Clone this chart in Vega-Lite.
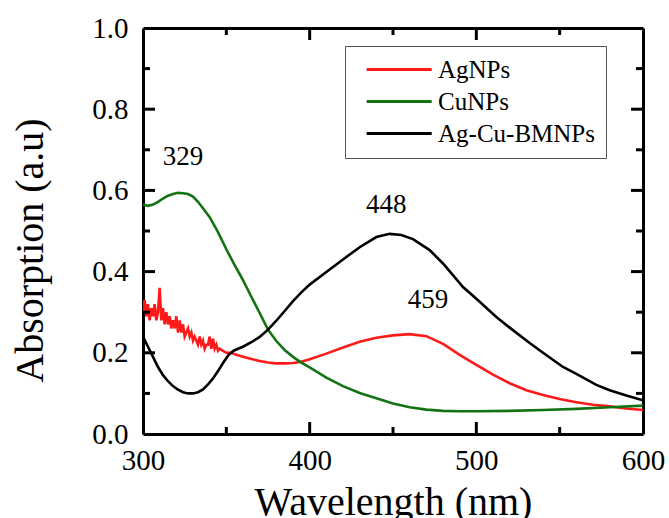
{
  "$schema": "https://vega.github.io/schema/vega-lite/v6.json",
  "width": 500,
  "height": 406,
  "autosize": "none",
  "padding": {"left": 143, "top": 28, "right": 26, "bottom": 84},
  "background": "white",
  "config": {
    "view": {"stroke": null},
    "font": "Liberation Serif, Times New Roman, serif",
    "axis": {
      "labelFlush": false,
      "labelFont": "Liberation Serif, Times New Roman, serif",
      "labelFontSize": 29,
      "labelColor": "black",
      "titleFont": "Liberation Serif, Times New Roman, serif",
      "titleFontSize": 40,
      "titleFontWeight": "normal",
      "titleColor": "black"
    }
  },
  "datasets": {
    "notes": [
      {"t": "329", "w": 324, "a": 0.682},
      {"t": "448", "w": 446, "a": 0.564},
      {"t": "459", "w": 471, "a": 0.33}
    ],
    "marks": [
      {"o": "b", "w": 350, "a": 0, "k": "minor"}, {"o": "b", "w": 400, "a": 0, "k": "major"}, {"o": "b", "w": 450, "a": 0, "k": "minor"}, {"o": "b", "w": 500, "a": 0, "k": "major"}, {"o": "b", "w": 550, "a": 0, "k": "minor"},
      {"o": "t", "w": 350, "a": 1, "k": "minor"}, {"o": "t", "w": 400, "a": 1, "k": "major"}, {"o": "t", "w": 450, "a": 1, "k": "minor"}, {"o": "t", "w": 500, "a": 1, "k": "major"}, {"o": "t", "w": 550, "a": 1, "k": "minor"},
      {"o": "l", "w": 300, "a": 0.1, "k": "minor"}, {"o": "l", "w": 300, "a": 0.2, "k": "major"}, {"o": "l", "w": 300, "a": 0.3, "k": "minor"}, {"o": "l", "w": 300, "a": 0.4, "k": "major"}, {"o": "l", "w": 300, "a": 0.5, "k": "minor"}, {"o": "l", "w": 300, "a": 0.6, "k": "major"}, {"o": "l", "w": 300, "a": 0.7, "k": "minor"}, {"o": "l", "w": 300, "a": 0.8, "k": "major"}, {"o": "l", "w": 300, "a": 0.9, "k": "minor"},
      {"o": "r", "w": 600, "a": 0.1, "k": "minor"}, {"o": "r", "w": 600, "a": 0.2, "k": "major"}, {"o": "r", "w": 600, "a": 0.3, "k": "minor"}, {"o": "r", "w": 600, "a": 0.4, "k": "major"}, {"o": "r", "w": 600, "a": 0.5, "k": "minor"}, {"o": "r", "w": 600, "a": 0.6, "k": "major"}, {"o": "r", "w": 600, "a": 0.7, "k": "minor"}, {"o": "r", "w": 600, "a": 0.8, "k": "major"}, {"o": "r", "w": 600, "a": 0.9, "k": "minor"}
    ]
  },
  "data": {
    "values": [
      {"s": "AgNPs", "w": 300, "a": 0.30}, {"s": "AgNPs", "w": 301, "a": 0.33}, {"s": "AgNPs", "w": 302, "a": 0.29}, {"s": "AgNPs", "w": 303, "a": 0.32}, {"s": "AgNPs", "w": 304, "a": 0.28}, {"s": "AgNPs", "w": 305, "a": 0.31}, {"s": "AgNPs", "w": 306, "a": 0.29}, {"s": "AgNPs", "w": 307, "a": 0.32}, {"s": "AgNPs", "w": 308, "a": 0.28}, {"s": "AgNPs", "w": 309, "a": 0.30}, {"s": "AgNPs", "w": 310, "a": 0.36}, {"s": "AgNPs", "w": 311, "a": 0.28}, {"s": "AgNPs", "w": 312, "a": 0.31}, {"s": "AgNPs", "w": 313, "a": 0.27}, {"s": "AgNPs", "w": 314, "a": 0.30}, {"s": "AgNPs", "w": 315, "a": 0.27}, {"s": "AgNPs", "w": 316, "a": 0.29}, {"s": "AgNPs", "w": 317, "a": 0.26}, {"s": "AgNPs", "w": 318, "a": 0.28}, {"s": "AgNPs", "w": 319, "a": 0.26}, {"s": "AgNPs", "w": 320, "a": 0.29}, {"s": "AgNPs", "w": 321, "a": 0.25}, {"s": "AgNPs", "w": 322, "a": 0.28}, {"s": "AgNPs", "w": 323, "a": 0.25}, {"s": "AgNPs", "w": 324, "a": 0.27}, {"s": "AgNPs", "w": 325, "a": 0.24}, {"s": "AgNPs", "w": 326, "a": 0.25}, {"s": "AgNPs", "w": 327, "a": 0.26}, {"s": "AgNPs", "w": 328, "a": 0.24}, {"s": "AgNPs", "w": 329, "a": 0.25}, {"s": "AgNPs", "w": 330, "a": 0.23}, {"s": "AgNPs", "w": 331, "a": 0.24}, {"s": "AgNPs", "w": 332, "a": 0.23}, {"s": "AgNPs", "w": 333, "a": 0.22}, {"s": "AgNPs", "w": 334, "a": 0.24}, {"s": "AgNPs", "w": 335, "a": 0.22}, {"s": "AgNPs", "w": 336, "a": 0.23}, {"s": "AgNPs", "w": 337, "a": 0.21}, {"s": "AgNPs", "w": 338, "a": 0.22}, {"s": "AgNPs", "w": 339, "a": 0.22}, {"s": "AgNPs", "w": 340, "a": 0.24}, {"s": "AgNPs", "w": 341, "a": 0.21}, {"s": "AgNPs", "w": 342, "a": 0.235}, {"s": "AgNPs", "w": 343, "a": 0.21}, {"s": "AgNPs", "w": 344, "a": 0.22}, {"s": "AgNPs", "w": 345, "a": 0.205}, {"s": "AgNPs", "w": 346, "a": 0.21}, {"s": "AgNPs", "w": 348, "a": 0.205}, {"s": "AgNPs", "w": 350, "a": 0.20}, {"s": "AgNPs", "w": 353, "a": 0.20}, {"s": "AgNPs", "w": 356, "a": 0.195}, {"s": "AgNPs", "w": 360, "a": 0.19}, {"s": "AgNPs", "w": 365, "a": 0.185}, {"s": "AgNPs", "w": 370, "a": 0.18}, {"s": "AgNPs", "w": 375, "a": 0.176}, {"s": "AgNPs", "w": 380, "a": 0.174}, {"s": "AgNPs", "w": 385, "a": 0.174}, {"s": "AgNPs", "w": 390, "a": 0.175}, {"s": "AgNPs", "w": 395, "a": 0.178}, {"s": "AgNPs", "w": 400, "a": 0.184}, {"s": "AgNPs", "w": 410, "a": 0.198}, {"s": "AgNPs", "w": 420, "a": 0.213}, {"s": "AgNPs", "w": 430, "a": 0.227}, {"s": "AgNPs", "w": 440, "a": 0.237}, {"s": "AgNPs", "w": 450, "a": 0.243}, {"s": "AgNPs", "w": 460, "a": 0.246}, {"s": "AgNPs", "w": 470, "a": 0.241}, {"s": "AgNPs", "w": 480, "a": 0.222}, {"s": "AgNPs", "w": 490, "a": 0.195}, {"s": "AgNPs", "w": 500, "a": 0.170}, {"s": "AgNPs", "w": 510, "a": 0.146}, {"s": "AgNPs", "w": 520, "a": 0.125}, {"s": "AgNPs", "w": 530, "a": 0.108}, {"s": "AgNPs", "w": 540, "a": 0.096}, {"s": "AgNPs", "w": 550, "a": 0.086}, {"s": "AgNPs", "w": 560, "a": 0.078}, {"s": "AgNPs", "w": 570, "a": 0.072}, {"s": "AgNPs", "w": 580, "a": 0.068}, {"s": "AgNPs", "w": 590, "a": 0.063}, {"s": "AgNPs", "w": 600, "a": 0.059},
      {"s": "CuNPs", "w": 300, "a": 0.565}, {"s": "CuNPs", "w": 303, "a": 0.562}, {"s": "CuNPs", "w": 306, "a": 0.565}, {"s": "CuNPs", "w": 309, "a": 0.572}, {"s": "CuNPs", "w": 312, "a": 0.580}, {"s": "CuNPs", "w": 315, "a": 0.587}, {"s": "CuNPs", "w": 318, "a": 0.591}, {"s": "CuNPs", "w": 321, "a": 0.594}, {"s": "CuNPs", "w": 324, "a": 0.593}, {"s": "CuNPs", "w": 327, "a": 0.591}, {"s": "CuNPs", "w": 330, "a": 0.585}, {"s": "CuNPs", "w": 333, "a": 0.572}, {"s": "CuNPs", "w": 336, "a": 0.556}, {"s": "CuNPs", "w": 340, "a": 0.534}, {"s": "CuNPs", "w": 345, "a": 0.497}, {"s": "CuNPs", "w": 350, "a": 0.455}, {"s": "CuNPs", "w": 355, "a": 0.416}, {"s": "CuNPs", "w": 360, "a": 0.379}, {"s": "CuNPs", "w": 365, "a": 0.338}, {"s": "CuNPs", "w": 370, "a": 0.298}, {"s": "CuNPs", "w": 375, "a": 0.257}, {"s": "CuNPs", "w": 380, "a": 0.229}, {"s": "CuNPs", "w": 385, "a": 0.207}, {"s": "CuNPs", "w": 390, "a": 0.190}, {"s": "CuNPs", "w": 395, "a": 0.176}, {"s": "CuNPs", "w": 400, "a": 0.164}, {"s": "CuNPs", "w": 410, "a": 0.139}, {"s": "CuNPs", "w": 420, "a": 0.118}, {"s": "CuNPs", "w": 430, "a": 0.101}, {"s": "CuNPs", "w": 440, "a": 0.088}, {"s": "CuNPs", "w": 450, "a": 0.075}, {"s": "CuNPs", "w": 460, "a": 0.066}, {"s": "CuNPs", "w": 470, "a": 0.060}, {"s": "CuNPs", "w": 480, "a": 0.057}, {"s": "CuNPs", "w": 490, "a": 0.056}, {"s": "CuNPs", "w": 500, "a": 0.056}, {"s": "CuNPs", "w": 520, "a": 0.057}, {"s": "CuNPs", "w": 540, "a": 0.059}, {"s": "CuNPs", "w": 560, "a": 0.062}, {"s": "CuNPs", "w": 580, "a": 0.066}, {"s": "CuNPs", "w": 600, "a": 0.070},
      {"s": "Ag-Cu-BMNPs", "w": 300, "a": 0.24}, {"s": "Ag-Cu-BMNPs", "w": 303, "a": 0.215}, {"s": "Ag-Cu-BMNPs", "w": 306, "a": 0.19}, {"s": "Ag-Cu-BMNPs", "w": 309, "a": 0.165}, {"s": "Ag-Cu-BMNPs", "w": 312, "a": 0.145}, {"s": "Ag-Cu-BMNPs", "w": 315, "a": 0.13}, {"s": "Ag-Cu-BMNPs", "w": 318, "a": 0.118}, {"s": "Ag-Cu-BMNPs", "w": 321, "a": 0.109}, {"s": "Ag-Cu-BMNPs", "w": 324, "a": 0.103}, {"s": "Ag-Cu-BMNPs", "w": 327, "a": 0.100}, {"s": "Ag-Cu-BMNPs", "w": 330, "a": 0.100}, {"s": "Ag-Cu-BMNPs", "w": 333, "a": 0.103}, {"s": "Ag-Cu-BMNPs", "w": 336, "a": 0.110}, {"s": "Ag-Cu-BMNPs", "w": 339, "a": 0.122}, {"s": "Ag-Cu-BMNPs", "w": 342, "a": 0.137}, {"s": "Ag-Cu-BMNPs", "w": 345, "a": 0.155}, {"s": "Ag-Cu-BMNPs", "w": 348, "a": 0.175}, {"s": "Ag-Cu-BMNPs", "w": 351, "a": 0.193}, {"s": "Ag-Cu-BMNPs", "w": 354, "a": 0.204}, {"s": "Ag-Cu-BMNPs", "w": 357, "a": 0.210}, {"s": "Ag-Cu-BMNPs", "w": 360, "a": 0.215}, {"s": "Ag-Cu-BMNPs", "w": 365, "a": 0.226}, {"s": "Ag-Cu-BMNPs", "w": 370, "a": 0.239}, {"s": "Ag-Cu-BMNPs", "w": 375, "a": 0.257}, {"s": "Ag-Cu-BMNPs", "w": 380, "a": 0.279}, {"s": "Ag-Cu-BMNPs", "w": 385, "a": 0.303}, {"s": "Ag-Cu-BMNPs", "w": 390, "a": 0.327}, {"s": "Ag-Cu-BMNPs", "w": 395, "a": 0.349}, {"s": "Ag-Cu-BMNPs", "w": 400, "a": 0.368}, {"s": "Ag-Cu-BMNPs", "w": 410, "a": 0.399}, {"s": "Ag-Cu-BMNPs", "w": 420, "a": 0.430}, {"s": "Ag-Cu-BMNPs", "w": 430, "a": 0.460}, {"s": "Ag-Cu-BMNPs", "w": 440, "a": 0.485}, {"s": "Ag-Cu-BMNPs", "w": 448, "a": 0.493}, {"s": "Ag-Cu-BMNPs", "w": 455, "a": 0.490}, {"s": "Ag-Cu-BMNPs", "w": 462, "a": 0.480}, {"s": "Ag-Cu-BMNPs", "w": 472, "a": 0.453}, {"s": "Ag-Cu-BMNPs", "w": 480, "a": 0.420}, {"s": "Ag-Cu-BMNPs", "w": 492, "a": 0.362}, {"s": "Ag-Cu-BMNPs", "w": 500, "a": 0.333}, {"s": "Ag-Cu-BMNPs", "w": 512, "a": 0.288}, {"s": "Ag-Cu-BMNPs", "w": 520, "a": 0.262}, {"s": "Ag-Cu-BMNPs", "w": 532, "a": 0.224}, {"s": "Ag-Cu-BMNPs", "w": 540, "a": 0.200}, {"s": "Ag-Cu-BMNPs", "w": 552, "a": 0.165}, {"s": "Ag-Cu-BMNPs", "w": 560, "a": 0.148}, {"s": "Ag-Cu-BMNPs", "w": 572, "a": 0.121}, {"s": "Ag-Cu-BMNPs", "w": 580, "a": 0.108}, {"s": "Ag-Cu-BMNPs", "w": 590, "a": 0.095}, {"s": "Ag-Cu-BMNPs", "w": 600, "a": 0.083}
    ]
  },
  "layer": [
    {
      "mark": {"type": "line", "strokeWidth": 2.6, "clip": true},
      "encoding": {
        "x": {
          "field": "w", "type": "quantitative",
          "scale": {"domain": [300, 600], "nice": false},
          "axis": {
            "orient": "bottom",
            "title": "Wavelength (nm)",
            "values": [300, 400, 500, 600],
            "domain": true, "domainColor": "black", "domainWidth": 3,
            "ticks": false, "tickSize": 0,
            "grid": false,
            "labelPadding": 12,
            "titleX": 250,
            "titleY": 80,
            "titleBaseline": "alphabetic"
          }
        },
        "y": {
          "field": "a", "type": "quantitative",
          "scale": {"domain": [0, 1], "nice": false},
          "axis": {
            "orient": "left",
            "title": "Absorption (a.u)",
            "values": [0, 0.2, 0.4, 0.6, 0.8, 1.0],
            "format": ".1f",
            "domain": true, "domainColor": "black", "domainWidth": 3,
            "ticks": false, "tickSize": 0,
            "grid": false,
            "labelPadding": 15,
            "titleX": -101,
            "titleY": 222,
            "titleAngle": -90,
            "titleAlign": "center",
            "titleBaseline": "alphabetic"
          }
        },
        "color": {
          "field": "s", "type": "nominal",
          "scale": {"domain": ["AgNPs", "CuNPs", "Ag-Cu-BMNPs"], "range": ["#ff1a1a", "#137313", "#000000"]},
          "legend": {
            "title": null,
            "orient": "none",
            "legendX": 202,
            "legendY": 18,
            "fillColor": "white",
            "strokeColor": "#555555",
            "padding": 11,
            "symbolType": "M-1,0H5",
            "symbolSize": 470,
            "symbolStrokeWidth": 3,
            "symbolOffset": 9,
            "labelOffset": 48,
            "labelFont": "Liberation Serif, Times New Roman, serif",
            "labelFontSize": 25,
            "labelColor": "black",
            "rowPadding": 6
          }
        }
      }
    },
    {
      "data": {"name": "notes"},
      "mark": {"type": "text", "font": "Liberation Serif, Times New Roman, serif", "fontSize": 27, "fill": "black", "baseline": "middle", "align": "center"},
      "encoding": {
        "text": {"field": "t", "type": "nominal"},
        "x": {
          "field": "w", "type": "quantitative",
          "axis": {
            "orient": "top", "title": null, "labels": false, "values": [300, 600],
            "domain": true, "domainColor": "black", "domainWidth": 3,
            "ticks": false, "tickSize": 0, "grid": false
          }
        },
        "y": {
          "field": "a", "type": "quantitative",
          "axis": {
            "orient": "right", "title": null, "labels": false, "values": [0, 1],
            "domain": true, "domainColor": "black", "domainWidth": 3,
            "ticks": false, "tickSize": 0, "grid": false
          }
        }
      }
    },
    {
      "data": {"name": "marks"},
      "transform": [{"filter": "datum.o === 'b' && datum.k === 'major'"}],
      "mark": {"type": "tick", "orient": "vertical", "thickness": 3, "size": 12, "yOffset": -6, "color": "black", "opacity": 1},
      "encoding": {"x": {"field": "w", "type": "quantitative", "axis": null}, "y": {"field": "a", "type": "quantitative", "axis": null}}
    },
    {
      "data": {"name": "marks"},
      "transform": [{"filter": "datum.o === 'b' && datum.k === 'minor'"}],
      "mark": {"type": "tick", "orient": "vertical", "thickness": 3, "size": 7, "yOffset": -3.5, "color": "black", "opacity": 1},
      "encoding": {"x": {"field": "w", "type": "quantitative", "axis": null}, "y": {"field": "a", "type": "quantitative", "axis": null}}
    },
    {
      "data": {"name": "marks"},
      "transform": [{"filter": "datum.o === 't' && datum.k === 'major'"}],
      "mark": {"type": "tick", "orient": "vertical", "thickness": 3, "size": 12, "yOffset": 6, "color": "black", "opacity": 1},
      "encoding": {"x": {"field": "w", "type": "quantitative", "axis": null}, "y": {"field": "a", "type": "quantitative", "axis": null}}
    },
    {
      "data": {"name": "marks"},
      "transform": [{"filter": "datum.o === 't' && datum.k === 'minor'"}],
      "mark": {"type": "tick", "orient": "vertical", "thickness": 3, "size": 7, "yOffset": 3.5, "color": "black", "opacity": 1},
      "encoding": {"x": {"field": "w", "type": "quantitative", "axis": null}, "y": {"field": "a", "type": "quantitative", "axis": null}}
    },
    {
      "data": {"name": "marks"},
      "transform": [{"filter": "datum.o === 'l' && datum.k === 'major'"}],
      "mark": {"type": "tick", "orient": "horizontal", "thickness": 3, "size": 12, "xOffset": 6, "color": "black", "opacity": 1},
      "encoding": {"x": {"field": "w", "type": "quantitative", "axis": null}, "y": {"field": "a", "type": "quantitative", "axis": null}}
    },
    {
      "data": {"name": "marks"},
      "transform": [{"filter": "datum.o === 'l' && datum.k === 'minor'"}],
      "mark": {"type": "tick", "orient": "horizontal", "thickness": 3, "size": 7, "xOffset": 3.5, "color": "black", "opacity": 1},
      "encoding": {"x": {"field": "w", "type": "quantitative", "axis": null}, "y": {"field": "a", "type": "quantitative", "axis": null}}
    },
    {
      "data": {"name": "marks"},
      "transform": [{"filter": "datum.o === 'r' && datum.k === 'major'"}],
      "mark": {"type": "tick", "orient": "horizontal", "thickness": 3, "size": 12, "xOffset": -6, "color": "black", "opacity": 1},
      "encoding": {"x": {"field": "w", "type": "quantitative", "axis": null}, "y": {"field": "a", "type": "quantitative", "axis": null}}
    },
    {
      "data": {"name": "marks"},
      "transform": [{"filter": "datum.o === 'r' && datum.k === 'minor'"}],
      "mark": {"type": "tick", "orient": "horizontal", "thickness": 3, "size": 7, "xOffset": -3.5, "color": "black", "opacity": 1},
      "encoding": {"x": {"field": "w", "type": "quantitative", "axis": null}, "y": {"field": "a", "type": "quantitative", "axis": null}}
    }
  ],
  "resolve": {"axis": {"x": "independent", "y": "independent"}}
}
